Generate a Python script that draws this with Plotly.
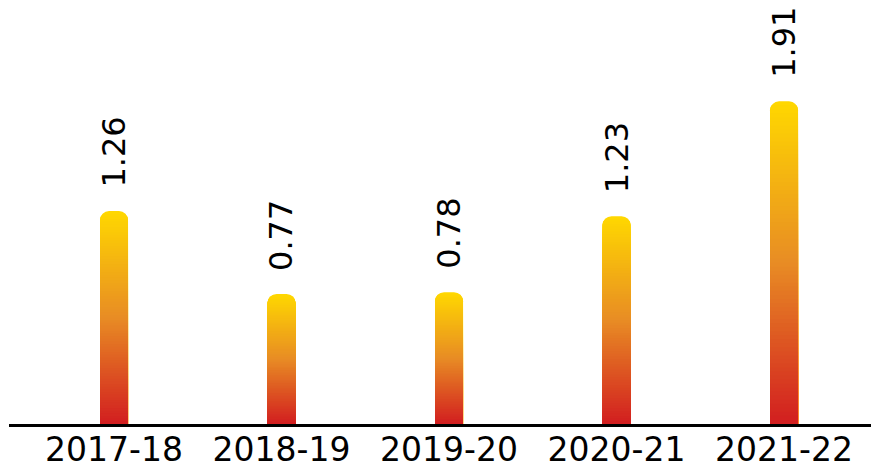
import plotly.graph_objects as go

seasons = ["2017-18", "2018-19", "2019-20", "2020-21", "2021-22"]
values = [1.26, 0.77, 0.78, 1.23, 1.91]
labels = ["1.26", "0.77", "0.78", "1.23", "1.91"]


def mix(c1, c2, t):
    return "rgb(%d,%d,%d)" % tuple(round(a + (b - a) * t) for a, b in zip(c1, c2))


def grad_color(t):
    # t = 0 at bottom (red), 1 at top (gold)
    red, orange, gold = (210, 30, 32), (232, 140, 36), (255, 216, 0)
    if t < 0.5:
        return mix(red, orange, t / 0.5)
    return mix(orange, gold, (t - 0.5) / 0.5)


fig = go.Figure()

# gradient bars: overlay of shrinking bars, tallest (gold) at the back
n_steps = 80
for k in range(n_steps):
    frac = 1 - k / n_steps
    fig.add_trace(go.Bar(
        x=seasons,
        y=[v * frac for v in values],
        width=0.167,
        marker=dict(color=grad_color(frac - 0.5 / n_steps), line=dict(width=0),
                    cornerradius=9),
        hoverinfo="skip" if k else None,
        showlegend=False,
    ))

for s, v, lab in zip(seasons, values, labels):
    fig.add_annotation(x=s, y=v, text=lab, textangle=-90, showarrow=False,
                       yanchor="bottom", yshift=21,
                       font=dict(family="DejaVu Sans", size=32, color="black"))

# page body has an 8px margin, so the figure is a bit smaller than the window
fig.update_layout(
    width=871, height=461,
    barmode="overlay",
    margin=dict(l=1, r=1, t=0, b=45),
    plot_bgcolor="white", paper_bgcolor="white",
    font=dict(family="DejaVu Sans", size=33, color="black"),
    showlegend=False,
)
fig.update_xaxes(range=[-0.627, 4.561], showline=True, linecolor="black", linewidth=3,
                 ticks="", showgrid=False, tickfont=dict(size=33), ticklabelstandoff=-6)
fig.update_yaxes(range=[0, 2.462], visible=False, showgrid=False, zeroline=False)

fig.write_html("out.html")
